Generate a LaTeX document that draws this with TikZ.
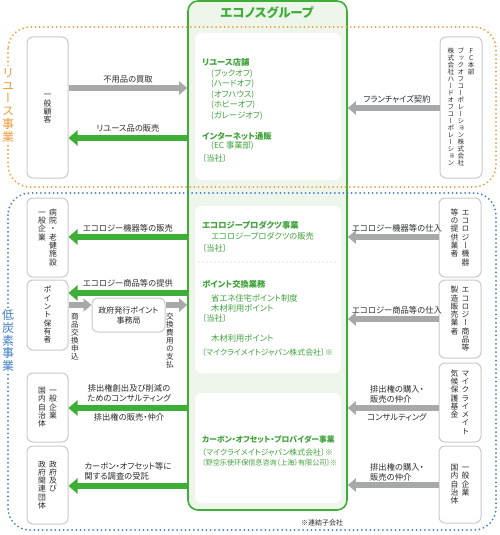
\documentclass[tikz,border=0pt]{standalone}
\usepackage{fontspec}
\setmainfont{Noto Sans CJK JP}[RawFeature=+palt]
\newfontfamily\vjp{Noto Sans CJK JP}[RawFeature=+vert]
\usetikzlibrary{arrows.meta}
\definecolor{gr}{HTML}{3DAE36}
\definecolor{grtxt}{HTML}{3FA33A}
\definecolor{grfill}{HTML}{EEF6EC}
\definecolor{gy}{HTML}{A7A8AA}
\definecolor{bx}{HTML}{CACACA}
\definecolor{org}{HTML}{F39A3A}
\definecolor{blu}{HTML}{3F7EC6}
\definecolor{txt}{HTML}{2A2A2A}
\makeatletter
\def\vt@loop#1{\ifx#1\@nil\else\hbox to 1em{\hss\rule{0pt}{0.88em}\rule[-0.18em]{0pt}{0pt}\smash{#1}\hss}\expandafter\vt@loop\fi}
\newcommand\vstk[1]{\vtop{\offinterlineskip\vjp\vt@loop#1\@nil}}
\makeatother
\newcommand\vtwo[2]{\hbox{\vstk{#2}\kern3pt\vstk{#1}}}
\newcommand\vthree[3]{\hbox{\vstk{#3}\kern3.6pt\vstk{#2}\kern3.6pt\vstk{#1}}}
\tikzset{
  ent/.style={draw=bx, line width=1pt, rounded corners=6pt, fill=white, inner sep=0pt, text=txt, font=\fontsize{7.8}{8}\selectfont},
  grpbox/.style={draw=gr, line width=1.6pt, fill=grfill, rounded corners=10pt, inner sep=0pt},
  garr/.style={draw=gr, line width=6pt, -{Triangle[length=9pt,width=15pt]}},
  yarr/.style={draw=gy, line width=6pt, -{Triangle[length=8pt,width=13pt]}},
  lbl/.style={inner sep=0pt, text=txt, font=\fontsize{8.3}{10}\selectfont},
  gt/.style={inner sep=0pt, anchor=west, text=grtxt, font=\fontsize{8.3}{9}\selectfont},
  gtb/.style={gt, font=\fontsize{8.3}{9}\selectfont\bfseries},
  dots/.style={line width=2pt, dash pattern=on 0pt off 4.2pt, line cap=round, rounded corners=22pt},
}
\begin{document}
\begin{tikzpicture}[x=1pt,y=-1pt]
\useasboundingbox (0,0) rectangle (500,535);
% group frame
\node[grpbox, minimum width=159pt, minimum height=509pt] (grp) at (267.5,255.5) {};
\node[inner sep=0pt, text=gr, font=\fontsize{12.5}{13}\selectfont\bfseries] (title) at (267,13) {エコノスグループ};
% business areas
\draw[org, dots] (8,27) rectangle (496,187);
\draw[blu, dots] (8,193) rectangle (496,530);
\node[fill=white, inner sep=1pt, text=org, font=\fontsize{12}{12}\selectfont] (reuse) at (8,105) {\vstk{リユース事業}};
\node[fill=white, inner sep=1pt, text=blu, font=\fontsize{12}{12}\selectfont] (lowc) at (8,341) {\vstk{低炭素事業}};
% inner white boxes
\fill[white, rounded corners=6pt] (195,33) rectangle (341,180);
\fill[white, rounded corners=6pt] (195,206) rectangle (341,373);
\fill[white, rounded corners=6pt] (195,393) rectangle (341,503);
\draw[grfill!70!gray!60, line width=1.6pt, dash pattern=on 0pt off 4pt, line cap=round] (199,262) -- (338,262);
% group contents
\node[gtb] (t1) at (202,62) {リユース店舗};
\node[gt] (t2) at (211,74) {(ブックオフ)};
\node[gt] (t3) at (211,84) {(ハードオフ)};
\node[gt] (t4) at (211,95) {(オフハウス)};
\node[gt] (t5) at (211,105) {(ホビーオフ)};
\node[gt] (t6) at (211,116) {(ガレージオフ)};
\node[gtb] (t7) at (202,136) {インターネット通販};
\node[gt] (t8) at (211,146) {(EC 事業部)};
\node[gt] (t9) at (202,158) {〔当社〕};
\node[gtb] (u1) at (202,225) {エコロジープロダクツ事業};
\node[gt] (u2) at (211,236) {エコロジープロダクツの販売};
\node[gt] (u3) at (202,248) {〔当社〕};
\node[gtb] (u4) at (202,284) {ポイント交換業務};
\node[gt] (u5) at (211,298) {省エネ住宅ポイント制度};
\node[gt] (u6) at (211,308) {木材利用ポイント};
\node[gt] (u7) at (202,318) {〔当社〕};
\node[gt] (u8) at (211,338) {木材利用ポイント};
\node[gt, font=\fontsize{7.9}{9}\selectfont] (u9) at (202,352) {〔マイクライメイトジャパン株式会社〕※};
\node[gtb, font=\fontsize{7.8}{9}\selectfont\bfseries] (v1) at (202,439) {カーボン・オフセット・プロバイダー事業};
\node[gt, font=\fontsize{7.9}{9}\selectfont] (v2) at (202,452) {〔マイクライメイトジャパン株式会社〕※};
\node[gt, font=\fontsize{7.1}{9}\selectfont] (v3) at (202,463) {〔野空乐使环保信息咨询（上海）有限公司〕※};
\node[inner sep=0pt, text=txt, font=\fontsize{7}{8}\selectfont] (note) at (322,523) {※連結子会社};
% left entities
\node[ent, minimum width=41pt, minimum height=141pt] (kokyaku) at (47.5,107.5) {\vstk{一般顧客}};
\node[ent, minimum width=41pt, minimum height=79pt] (hosp) at (47.5,237.5) {\vtwo{病院・老健施設}{一般企業}};
\node[ent, minimum width=41pt, minimum height=70pt] (holder) at (47.5,315) {\vstk{ポイント保有者}};
\node[ent, minimum width=41pt, minimum height=69pt] (kigyoL) at (47.5,407.5) {\vtwo{一般企業}{国内自治体}};
\node[ent, minimum width=41pt, minimum height=78pt] (govL) at (47.5,485) {\vtwo{政府及び}{政府関連団体}};
% right entities
\node[ent, minimum width=42pt, minimum height=141pt, font=\fontsize{6.6}{7}\selectfont] (fc) at (461,107.5) {\vthree{FC本部}{ブックオフコーポレーション株式会社}{株式会社ハードオフコーポレーション}};
\node[ent, minimum width=42pt, minimum height=79pt] (ecoki) at (460,237.5) {\vtwo{エコロジー機器}{等の提供業者}};
\node[ent, minimum width=42pt, minimum height=78pt] (ecosho) at (460,319) {\vtwo{エコロジー商品等}{製造販売業者}};
\node[ent, minimum width=42pt, minimum height=79pt] (mycl) at (460,402.5) {\vtwo{マイクライメイト}{気候保護基金}};
\node[ent, minimum width=42pt, minimum height=77pt] (jichiR) at (460,484.5) {\vtwo{一般企業}{国内自治体}};
% point office
\node[ent, minimum width=73pt, minimum height=34pt, align=center, font=\fontsize{8}{10}\selectfont] (jimu) at (128.5,315) {政府発行ポイント\\事務局};
% arrows left side
\draw[yarr] (kokyaku.east |- 0,88) -- (grp.west |- 0,88);
\node[lbl] (a1) at (128,80) {不用品の買取};
\draw[garr] (grp.west |- 0,138) -- (kokyaku.east |- 0,138);
\node[lbl] (a2) at (128,128) {リユース品の販売};
\draw[garr] (grp.west |- 0,237) -- (hosp.east |- 0,237);
\node[lbl] (a3) at (128,228) {エコロジー機器等の販売};
\draw[garr] (grp.west |- 0,293) -- (holder.east |- 0,293);
\node[lbl] (a4) at (128,283) {エコロジー商品等の提供};
\draw[yarr] (holder.east |- 0,305) -- (jimu.west |- 0,305);
\draw[yarr] (jimu.east |- 0,305) -- (grp.west |- 0,305);
\node[inner sep=0pt, text=txt, font=\fontsize{7.6}{8}\selectfont] (a5) at (75,337) {\vstk{商品交換申込}};
\node[inner sep=0pt, text=txt, font=\fontsize{7.6}{8}\selectfont] (a6) at (170,341) {\vstk{交換費用の支払}};
\draw[garr] (grp.west |- 0,408) -- (kigyoL.east |- 0,408);
\node[lbl, align=center] (a7) at (129,393) {排出権創出及び削減の\\ためのコンサルティング};
\node[lbl] (a8) at (129,417) {排出権の販売・仲介};
\draw[garr] (grp.west |- 0,486) -- (govL.east |- 0,486);
\node[lbl, align=left] (a9) at (128,471) {カーボン・オフセット等に\\関する調査の受託};
% arrows right side
\draw[yarr] (fc.west |- 0,108) -- (grp.east |- 0,108);
\node[lbl] (b1) at (397,99) {フランチャイズ契約};
\draw[yarr] (ecoki.west |- 0,237) -- (grp.east |- 0,237);
\node[lbl] (b2) at (397,228) {エコロジー機器等の仕入};
\draw[yarr] (ecosho.west |- 0,319) -- (grp.east |- 0,319);
\node[lbl] (b3) at (397,310) {エコロジー商品等の仕入};
\draw[yarr] (mycl.west |- 0,408) -- (grp.east |- 0,408);
\node[lbl, align=left] (b4) at (397,394) {排出権の購入・\\販売の仲介};
\node[lbl] (b5) at (397,417) {コンサルティング};
\draw[yarr] (jichiR.west |- 0,485) -- (grp.east |- 0,485);
\node[lbl, align=left] (b6) at (397,472) {排出権の購入・\\販売の仲介};
\end{tikzpicture}
\end{document}
